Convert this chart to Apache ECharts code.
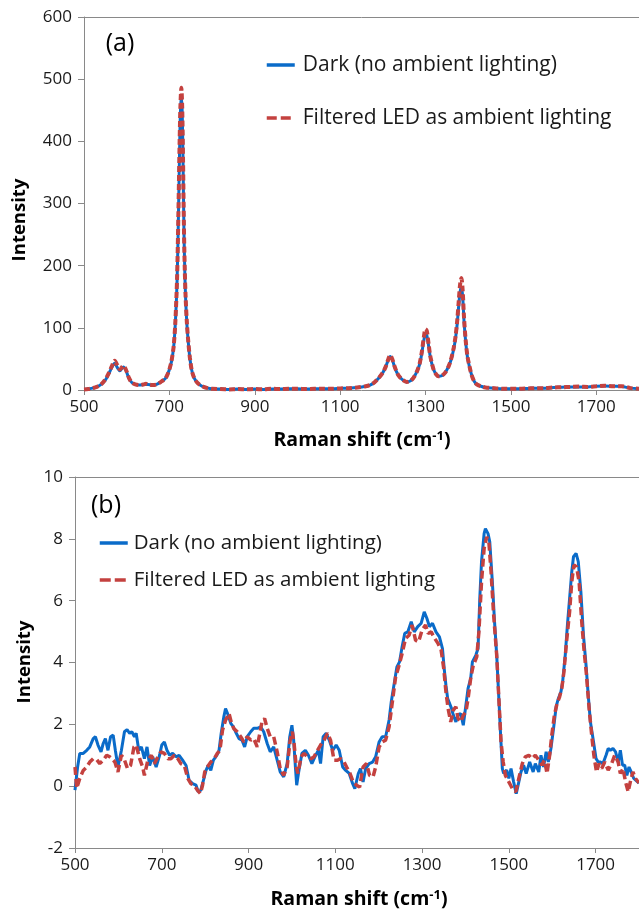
<!DOCTYPE html>
<html>
<head>
<meta charset="utf-8">
<script src="https://cdn.jsdelivr.net/npm/echarts@6/dist/echarts.min.js"></script>
<style>
html,body{margin:0;padding:0;background:#fff;}
#a{position:absolute;left:0;top:0;width:639px;height:455px;}
#b{position:absolute;left:0;top:455px;width:639px;height:455px;}
</style>
</head>
<body>
<div id="a"></div>
<div id="b"></div>
<script>
// ---------- Panel (a) data ----------
const waveA = [500,510,520,530,540,550,558,565,572,578,584,592,598,605,612,620,630,640,645,650,660,670,680,690,695,700,705,710,714,718,721,724,726,728,730,732,734,736,738,741,744,748,752,756,760,765,770,780,790,800,820,840,860,880,900,920,940,960,980,1000,1020,1040,1060,1080,1100,1120,1140,1160,1170,1180,1190,1200,1207,1213,1217,1222,1228,1236,1245,1256,1265,1272,1280,1286,1291,1296,1300,1303,1307,1311,1316,1320,1325,1330,1338,1346,1354,1360,1366,1370,1374,1378,1381,1384,1387,1390,1394,1398,1403,1408,1414,1420,1430,1440,1460,1480,1500,1520,1540,1560,1580,1600,1620,1640,1660,1680,1700,1720,1740,1760,1780,1800];
const ledA = [1,1.5,3,5,9,17,27,38,47,40,33,39,33,20,12,9,8,9,10,9,8,9,13,18,24,33,47,70,110,180,280,400,460,486,455,370,265,195,150,108,80,52,33,23,17,12,9,5,3,2,1.5,1,1.5,1,1.5,1,2,1.5,2,2,1.5,2,2,2,2.5,3,4,6,8,12,19,28,38,50,56,50,37,24,17,13,15,20,30,42,60,85,98,95,75,55,40,31,25,22,23,28,38,50,68,85,110,145,170,180,160,118,80,55,38,24,14,9,6,4,3,2,2,2,2.5,3,3,4,4.5,5,5.5,5,6,7,6,6,3,2];
const darkA = [1,1.5,3,5,9,16,26,36,43,36,31,37,32,19,12,9,8,9,9,9,8,9,13,18,24,33,46,69,108,175,272,390,450,472,448,365,262,193,148,106,79,51,33,23,17,12,9,5,3,2,1.5,1,1.5,1,1.5,1,1.5,1.5,2,2,1.5,2,2,2,2.5,3,4,6,8,12,19,28,38,49,54,49,36,24,17,13,15,20,30,41,58,80,90,88,72,54,39,31,25,22,23,28,38,49,66,82,105,138,158,166,150,112,78,54,37,24,14,9,6,4,3,2,2,2,2.5,3,3,4,4.5,5,5,5,6,6.5,6,5.5,3,2];

// ---------- Panel (b) data ----------
const waveBDark = [500,506,511,519,527,534,542,547,553,560,565,570,576,582,588,593,599,607,614,620,626,631,637,641,647,653,660,666,672,679,687,695,700,706,712,718,725,733,740,748,756,763,771,779,784,790,796,802,807,813,819,827,832,837,843,847,853,859,865,870,878,885,891,897,905,912,920,928,935,943,950,958,966,973,981,989,995,1000,1004,1008,1011,1015,1023,1031,1038,1046,1053,1061,1066,1072,1079,1086,1094,1102,1109,1117,1124,1132,1140,1145,1153,1158,1164,1170,1178,1186,1193,1201,1208,1216,1224,1229,1237,1242,1248,1254,1260,1267,1275,1282,1290,1298,1305,1311,1317,1324,1332,1340,1347,1351,1355,1359,1363,1368,1372,1378,1383,1389,1395,1401,1406,1412,1416,1424,1429,1433,1437,1443,1446,1452,1456,1462,1467,1472,1477,1481,1485,1488,1495,1500,1505,1511,1517,1523,1528,1534,1540,1548,1556,1561,1569,1574,1580,1586,1591,1597,1603,1609,1614,1620,1624,1630,1635,1640,1645,1649,1655,1660,1666,1672,1678,1683,1688,1694,1701,1706,1711,1717,1724,1729,1734,1740,1746,1752,1757,1762,1767,1772,1777,1782,1788,1792,1800];
const darkB = [-0.13,0.62,1.06,1.06,1.16,1.27,1.54,1.6,1.33,1.11,1.38,1.54,1.16,1.6,1.65,1.16,0.62,1.16,1.76,1.83,1.71,1.76,1.6,1.71,1.16,1.27,0.89,1.27,0.67,0.95,0.62,1.0,1.33,1.43,1.16,1.0,1.06,0.95,1.0,0.84,0.67,0.19,0.08,0.03,-0.18,-0.13,0.19,0.51,0.67,0.51,0.84,1.0,1.16,1.71,2.24,2.51,2.3,2.03,1.92,1.76,1.54,1.49,1.27,1.6,1.76,1.87,1.87,1.92,1.76,1.38,1.11,1.27,0.84,0.46,0.3,0.73,1.6,1.97,1.49,0.62,0.03,0.41,1.06,1.16,1.0,0.73,0.95,1.16,0.73,1.6,1.71,1.49,1.16,1.33,1.16,0.62,0.51,0.41,0.08,-0.08,0.41,0.57,0.14,0.57,0.73,0.78,0.95,1.43,1.6,1.6,2.14,2.73,3.43,3.86,4.02,4.51,4.94,4.99,5.32,4.99,5.16,5.27,5.64,5.43,5.16,5.27,4.99,4.83,4.45,3.8,3.26,2.83,2.78,2.51,2.3,2.08,2.3,2.35,1.97,2.62,3.16,3.48,4.02,4.24,4.45,6.07,7.26,8.17,8.33,8.17,7.9,6.61,5.32,4.24,2.83,1.65,0.57,0.41,0.52,0.25,0.57,0.14,-0.24,0.14,0.46,0.68,0.41,0.78,0.46,0.73,0.46,1.0,0.62,1.11,0.78,1.22,1.86,2.57,2.83,3.05,3.37,4.24,5.21,6.07,6.93,7.42,7.53,7.26,6.29,4.88,3.91,2.94,2.08,1.54,0.89,0.78,0.78,0.73,1.0,1.22,1.16,1.22,1.11,0.78,1.16,0.68,0.68,0.35,0.62,0.46,0.25,0.25,0.1];
const waveBLed = [500,504,511,519,527,534,542,550,557,565,573,580,585,592,599,607,613,621,628,636,641,649,656,660,668,676,683,691,698,706,714,721,729,737,744,752,760,767,775,782,789,794,799,805,813,821,828,834,840,847,855,860,866,874,882,889,897,905,912,920,926,931,937,943,950,958,966,973,981,989,996,1001,1005,1010,1014,1021,1028,1036,1044,1051,1059,1066,1074,1082,1089,1097,1105,1112,1118,1126,1134,1141,1149,1156,1164,1172,1179,1187,1193,1201,1208,1216,1224,1231,1239,1247,1254,1262,1270,1277,1285,1292,1300,1308,1314,1321,1329,1337,1344,1350,1355,1360,1366,1372,1378,1383,1389,1395,1401,1406,1412,1418,1426,1431,1437,1443,1449,1454,1459,1465,1472,1477,1482,1487,1492,1498,1504,1510,1516,1523,1531,1538,1546,1553,1561,1569,1576,1582,1588,1594,1599,1605,1611,1617,1622,1627,1633,1640,1645,1650,1656,1662,1668,1673,1679,1685,1691,1696,1702,1708,1714,1721,1729,1737,1744,1752,1757,1763,1769,1775,1780,1786,1792,1800];
const ledB = [0.62,-0.07,0.25,0.51,0.62,0.78,0.89,0.86,0.73,0.84,1.0,0.95,0.89,0.78,0.46,1.0,0.89,0.57,0.67,1.27,1.33,0.89,0.62,0.35,0.84,1.0,0.73,0.95,1.11,1.06,0.89,0.89,1.0,0.89,0.73,0.67,0.25,0.08,0.03,-0.13,-0.24,0.03,0.46,0.62,0.78,0.89,1.06,1.16,1.81,2.13,2.35,2.08,1.86,1.76,1.6,1.43,1.6,1.49,1.54,1.27,1.71,2.08,2.19,1.87,1.6,1.6,1.11,0.57,0.35,0.62,1.49,1.76,1.38,0.62,0.41,0.95,1.06,0.95,0.89,0.95,1.16,1.33,1.49,1.71,1.49,0.84,0.84,0.89,0.84,0.62,0.41,0.14,0.03,-0.03,0.62,0.73,0.35,0.3,0.62,1.27,1.43,1.49,1.92,2.67,3.53,3.91,4.29,4.78,4.88,5.21,4.72,4.67,5.05,5.21,4.94,4.99,4.78,4.61,4.4,3.8,3.05,2.51,2.08,2.46,2.57,2.19,2.08,2.3,2.4,2.83,3.48,3.91,4.18,4.99,6.61,7.69,8.06,7.9,6.93,5.53,4.24,2.83,1.43,0.78,0.35,0.19,0.03,-0.13,-0.18,0.25,0.73,0.95,1.0,0.89,1.0,0.84,0.68,0.84,0.41,1.0,1.65,2.3,2.67,2.89,3.16,3.7,4.67,5.64,6.61,7.15,7.1,6.61,5.32,4.45,3.59,2.51,1.65,1.0,0.46,0.73,0.57,0.78,0.52,0.73,1.0,0.78,0.41,0.57,0.14,-0.18,0.14,0.46,0.25,0.1];

const darkName = 'Dark (no ambient lighting)';
const ledName = 'Filtered LED as ambient lighting';
const xTicksMin = 500, xTicksMax = 1800, xTickStep = 200;

const BLUE = '#0a6bc9';
const RED = '#c4413f';
const AXIS = '#898989';
const FONT = 'Open Sans';

function pairs(xs, ys){ return xs.map((x,i)=>[x, ys[i]]); }
const plain = v => String(v);

function xAxisCfg(){
  return [{
    type:'value', min:xTicksMin, max:xTicksMax, interval:xTickStep,
    axisLine:{show:true, onZero:false, lineStyle:{color:AXIS, width:1}},
    axisTick:{show:true, length:5, lineStyle:{color:AXIS}},
    axisLabel:{show:true, margin:9, fontSize:17, fontFamily:FONT, color:'#1a1a1a', showMaxLabel:false, formatter:plain},
    splitLine:{show:false}
  },{
    type:'value', position:'top', min:xTicksMin, max:xTicksMax,
    axisLine:{show:true, onZero:false, lineStyle:{color:AXIS, width:1}},
    axisTick:{show:false}, axisLabel:{show:false}, splitLine:{show:false}
  }];
}
function yAxisCfg(min,max,step){
  return {
    type:'value', min:min, max:max, interval:step,
    axisLine:{show:true, onZero:false, lineStyle:{color:AXIS, width:1}},
    axisTick:{show:true, length:6, lineStyle:{color:AXIS}},
    axisLabel:{show:true, margin:12, fontSize:17, fontFamily:FONT, color:'#1a1a1a', formatter:plain},
    splitLine:{show:false}
  };
}
const xTitleRich = {
  b:{fontFamily:FONT, fontWeight:'bold', fontSize:19.5, fill:'#000'},
  s:{fontFamily:FONT, fontWeight:'bold', fontSize:13, fill:'#000', verticalAlign:'top', padding:[0,0,8,0]}
};
function legendCfg(left, top, gap, size, textPad, redDash){
  return {
    orient:'vertical', left:left, top:top, padding:0, itemWidth:28, itemHeight:10, itemGap:gap,
    itemStyle:{opacity:0},
    textStyle:{fontFamily:FONT, fontSize:size, color:'#1a1a1a', lineHeight:22, padding:[0,0,0,textPad]},
    data:[
      {name:darkName, lineStyle:{width:3.5, color:BLUE, type:'solid'}},
      {name:ledName, lineStyle:{width:3.5, color:RED, type:redDash}}
    ],
    selectedMode:false
  };
}

// ---------- Chart A ----------
const chartA = echarts.init(document.getElementById('a'));
chartA.setOption({
  animation:false,
  grid:{left:84, right:0, top:17, bottom:65, containLabel:false},
  xAxis:xAxisCfg(),
  yAxis:yAxisCfg(0,600,100),
  legend:legendCfg(265, 54, 31, 21, 3, [10,4]),
  series:[
    {name:darkName, type:'line', data:pairs(waveA, darkA), showSymbol:false, symbol:'none', smooth:0.3,
     lineStyle:{color:BLUE, width:3}, itemStyle:{color:BLUE}, z:2},
    {name:ledName, type:'line', data:pairs(waveA, ledA), showSymbol:false, symbol:'none', smooth:0.3,
     lineStyle:{color:RED, width:4, type:[6,3]}, itemStyle:{color:RED}, z:3}
  ],
  graphic:[
    {type:'text', x:120, y:44, style:{text:'(a)', fontFamily:FONT, fontSize:25, fill:'#000', align:'center', verticalAlign:'middle'}},
    {type:'text', x:20, y:220, rotation:Math.PI/2, style:{text:'Intensity', fontFamily:FONT, fontWeight:'bold', fontSize:18.5, fill:'#000', align:'center', verticalAlign:'middle'}},
    {type:'text', x:362, y:440, style:{text:'{b|Raman shift (cm}{s|-1}{b|)}', rich:xTitleRich, align:'center', verticalAlign:'middle'}}
  ]
});

// ---------- Chart B ----------
const chartB = echarts.init(document.getElementById('b'));
chartB.setOption({
  animation:false,
  grid:{left:75, right:-3, top:22, bottom:62, containLabel:false},
  xAxis:xAxisCfg(),
  yAxis:yAxisCfg(-2,10,2),
  legend:legendCfg(98, 77, 15, 20.5, 1, [11,4]),
  series:[
    {name:darkName, type:'line', data:pairs(waveBDark, darkB), showSymbol:false, symbol:'none',
     lineStyle:{color:BLUE, width:3}, itemStyle:{color:BLUE}, z:2},
    {name:ledName, type:'line', data:pairs(waveBLed, ledB), showSymbol:false, symbol:'none',
     lineStyle:{color:RED, width:3.5, type:[8,4]}, itemStyle:{color:RED}, z:3}
  ],
  graphic:[
    {type:'text', x:106, y:51, style:{text:'(b)', fontFamily:FONT, fontSize:25, fill:'#000', align:'center', verticalAlign:'middle'}},
    {type:'text', x:25, y:207, rotation:Math.PI/2, style:{text:'Intensity', fontFamily:FONT, fontWeight:'bold', fontSize:18.5, fill:'#000', align:'center', verticalAlign:'middle'}},
    {type:'text', x:359, y:444, style:{text:'{b|Raman shift (cm}{s|-1}{b|)}', rich:xTitleRich, align:'center', verticalAlign:'middle'}}
  ]
});
</script>
</body>
</html>
